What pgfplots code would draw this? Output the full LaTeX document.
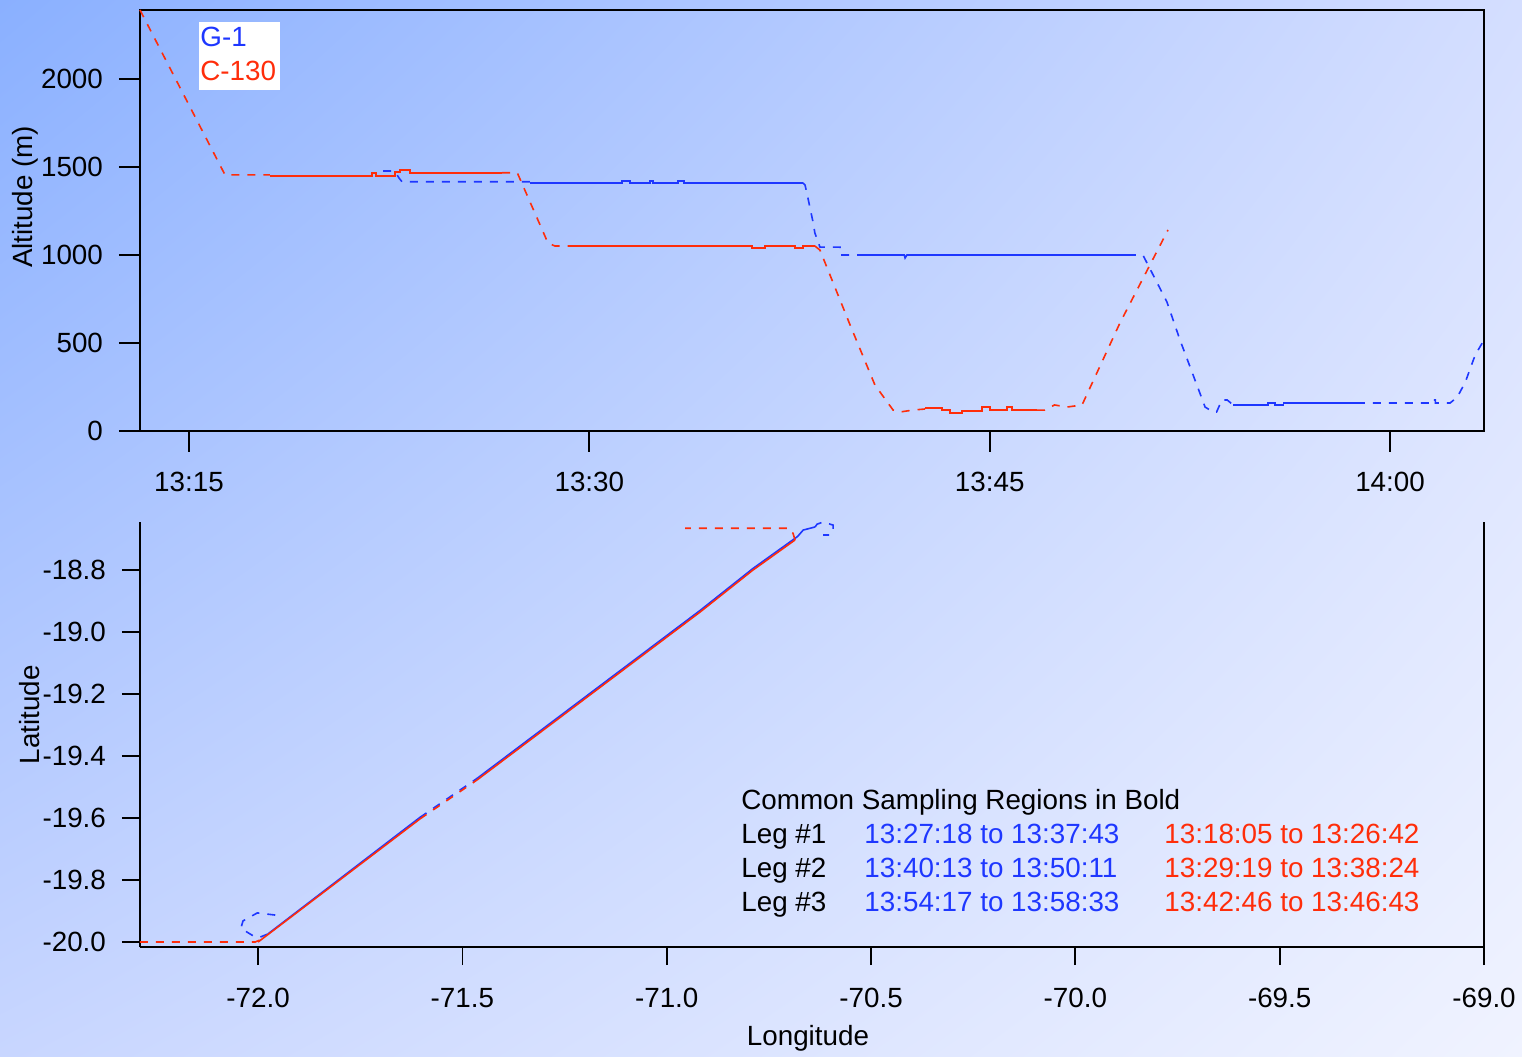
\documentclass[border=0pt]{standalone}
\usepackage{fontspec}
\setmainfont{Liberation Sans}
\usepackage{pgfplots}
\pgfplotsset{compat=1.18}
\usetikzlibrary{shadings}
\definecolor{g1}{RGB}{30,55,255}
\definecolor{c130}{RGB}{255,45,10}
\definecolor{bgTL}{RGB}{138,176,255}
\definecolor{bgTR}{RGB}{212,222,255}
\definecolor{bgBL}{RGB}{200,214,255}
\definecolor{bgBR}{RGB}{240,243,255}
\newcommand{\fs}{\fontsize{13.9}{16}\selectfont}
\pgfplotsset{
  common/.style={
    scale only axis, width=672pt,
    axis line style={black, line width=0.9pt},
    tick style={black, line width=0.9pt},
    tick align=outside,
    tick label style={font=\fs},
    yticklabel style={xshift=-4.5pt},
    /pgf/number format/assume math mode=true,
    /pgf/number format/1000 sep={},
    clip=false,
  },
  dsh/.style={line width=0.8pt, dash pattern=on 4pt off 4pt},
  sld/.style={line width=0.8pt},
}
\begin{document}
\begin{tikzpicture}[x=1pt,y=1pt]
\useasboundingbox (0,0) rectangle (761,528);
\shade[upper left=bgTL, upper right=bgTR, lower left=bgBL, lower right=bgBR] (0,0) rectangle (761,528);
% ---------------- top: altitude vs time ----------------
\begin{axis}[common,
  at={(70pt,312.5pt)}, anchor=south west, height=210.5pt,
  xmin=13.164, xmax=63.52, ymin=0, ymax=2392,
  xtick={15,30,45,60}, xticklabels={13:15,13:30,13:45,14:00},
  ytick={0,500,1000,1500,2000},
  tick pos=left, major tick length=10.5pt,
  xticklabel style={yshift=-6.5pt},
]
% C-130
\addplot[c130, dsh] coordinates {(13.164,2392)(16.35,1455)(18.03,1455)};
\addplot[c130, sld] coordinates {(18.03,1450)(21.86,1450)(21.86,1465)(22.0,1465)(22.0,1450)(22.72,1450)(22.72,1470)(22.9,1470)(22.9,1483)(23.28,1483)(23.28,1467)(26.73,1467)};
\addplot[c130, dsh] coordinates {(26.73,1467)(27.3,1467)(28.45,1068)(28.71,1051)(29.27,1051)};
\addplot[c130, sld] coordinates {(29.27,1051)(36.09,1051)(36.09,1040)(36.58,1040)(36.58,1051)(37.71,1051)(37.71,1040)(38.0,1040)(38.0,1051)(38.45,1051)};
\addplot[c130, dsh] coordinates {(38.45,1051)(38.64,1028)(39.77,602)(40.70,261)(41.38,119)(41.64,108)(42.13,119)(42.58,125)};
\addplot[c130, sld] coordinates {(42.58,131)(43.21,131)(43.21,119)(43.51,119)(43.51,102)(43.96,102)(43.96,114)(44.71,114)(44.71,136)(45.01,136)(45.01,119)(45.65,119)(45.65,136)(45.84,136)(45.84,119)(46.77,119)};
\addplot[c130, dsh] coordinates {(46.77,119)(47.06,119)(47.43,148)(47.9,136)(48.46,148)(49.88,614)(51.68,1142)};
% G-1
\addplot[g1, dsh] coordinates {(22.27,1477)(22.64,1477)(22.75,1466)(22.87,1437)(22.98,1416)(27.78,1416)};
\addplot[g1, sld] coordinates {(27.78,1410)(31.22,1410)(31.22,1420)(31.52,1420)(31.52,1410)(32.27,1410)(32.27,1420)(32.38,1420)(32.38,1410)(33.32,1410)(33.32,1420)(33.55,1420)(33.55,1410)(38.0,1410)};
\addplot[g1, dsh] coordinates {(38.0,1410)(38.08,1398)(38.15,1352)(38.38,1187)(38.45,1125)(38.64,1045)(39.39,1045)(39.39,1000)(40.14,1000)};
\addplot[g1, sld] coordinates {(40.14,1000)(41.8,1000)(41.83,983)(41.9,1000)(50.18,1000)};
\addplot[g1, dsh] coordinates {(50.18,1000)(50.74,1000)(51.64,733)(52.13,517)(52.69,290)(53.07,136)(53.37,108)(53.5,108)(53.7,176)(53.9,176)(54.12,148)};
\addplot[g1, sld] coordinates {(54.12,148)(55.43,148)(55.43,159)(55.69,159)(55.69,148)(56.0,148)(56.0,159)(58.76,159)};
\addplot[g1, dsh] coordinates {(58.76,159)(61.55,159)(61.55,176)(61.7,176)(61.7,159)(62.25,159)(62.52,193)(62.82,278)(63.19,432)(63.52,517)};
\node[rotate=90, font=\fs] at (axis description cs:-0.0856,0.556) {Altitude (m)};
\end{axis}
% legend box
\fill[white] (99.5,483) rectangle (140,517);
\node[anchor=base west, font=\fs, text=g1, inner sep=0pt] at (100,504.5) {G-1};
\node[anchor=base west, font=\fs, text=c130, inner sep=0pt] at (100,487.5) {C-130};
% ---------------- bottom: latitude vs longitude ----------------
\begin{axis}[common,
  at={(70pt,54.5pt)}, anchor=south west, height=212.5pt,
  xmin=-72.289, xmax=-69.0, ymin=-20.016, ymax=-18.645,
  xtick={-72,-71.5,...,-69}, ytick={-20,-19.8,...,-18.7},
  axis x line*=bottom, axis y line*=left,
  major tick length=9pt,
  xticklabel style={yshift=-8pt},
  /pgf/number format/.cd, fixed, fixed zerofill, precision=1,
]
\draw[black, line width=0.9pt] (rel axis cs:1,0) -- (rel axis cs:1,1);
% G-1
\addplot[g1, dsh] coordinates {(-71.958,-19.913)(-72.002,-19.906)(-72.037,-19.932)(-72.042,-19.955)(-72.027,-19.968)(-72.007,-19.984)(-71.995,-19.984)(-71.976,-19.974)};
\addplot[g1, sld] coordinates {(-71.976,-19.974)(-71.604,-19.598)};
\addplot[g1, dsh] coordinates {(-71.604,-19.598)(-71.464,-19.472)};
\addplot[g1, sld] coordinates {(-71.464,-19.472)(-70.918,-18.930)(-70.789,-18.795)(-70.680,-18.692)(-70.666,-18.671)(-70.637,-18.661)};
\addplot[g1, dsh] coordinates {(-70.637,-18.661)(-70.632,-18.652)(-70.617,-18.645)(-70.600,-18.652)(-70.593,-18.655)(-70.593,-18.671)(-70.600,-18.687)(-70.617,-18.687)};
% C-130
\addplot[c130, dsh] coordinates {(-72.289,-20.0)(-72.007,-20.0)(-71.995,-19.993)};
\addplot[c130, sld] coordinates {(-72.0,-20.0)(-71.604,-19.603)};
\addplot[c130, dsh] coordinates {(-71.604,-19.603)(-71.464,-19.477)};
\addplot[c130, sld] coordinates {(-71.464,-19.477)(-70.918,-18.935)(-70.789,-18.800)(-70.686,-18.703)};
\addplot[c130, dsh] coordinates {(-70.686,-18.703)(-70.691,-18.681)(-70.703,-18.671)(-70.703,-18.665)(-70.955,-18.665)};
\node[rotate=90, font=\fs] at (axis description cs:-0.0818,0.546) {Latitude};
\node[font=\fs] at (axis description cs:0.497,-0.214) {Longitude};
\end{axis}
% annotation
\begin{scope}[every node/.style={anchor=base west, font=\fs, inner sep=0pt}]
\node at (370.5,123) {Common Sampling Regions in Bold};
\node at (370.5,106) {Leg \#1};
\node at (370.5,89) {Leg \#2};
\node at (370.5,72) {Leg \#3};
\node[text=g1] at (432,106) {13:27:18 to 13:37:43};
\node[text=g1] at (432,89) {13:40:13 to 13:50:11};
\node[text=g1] at (432,72) {13:54:17 to 13:58:33};
\node[text=c130] at (582,106) {13:18:05 to 13:26:42};
\node[text=c130] at (582,89) {13:29:19 to 13:38:24};
\node[text=c130] at (582,72) {13:42:46 to 13:46:43};
\end{scope}
\end{tikzpicture}
\end{document}
